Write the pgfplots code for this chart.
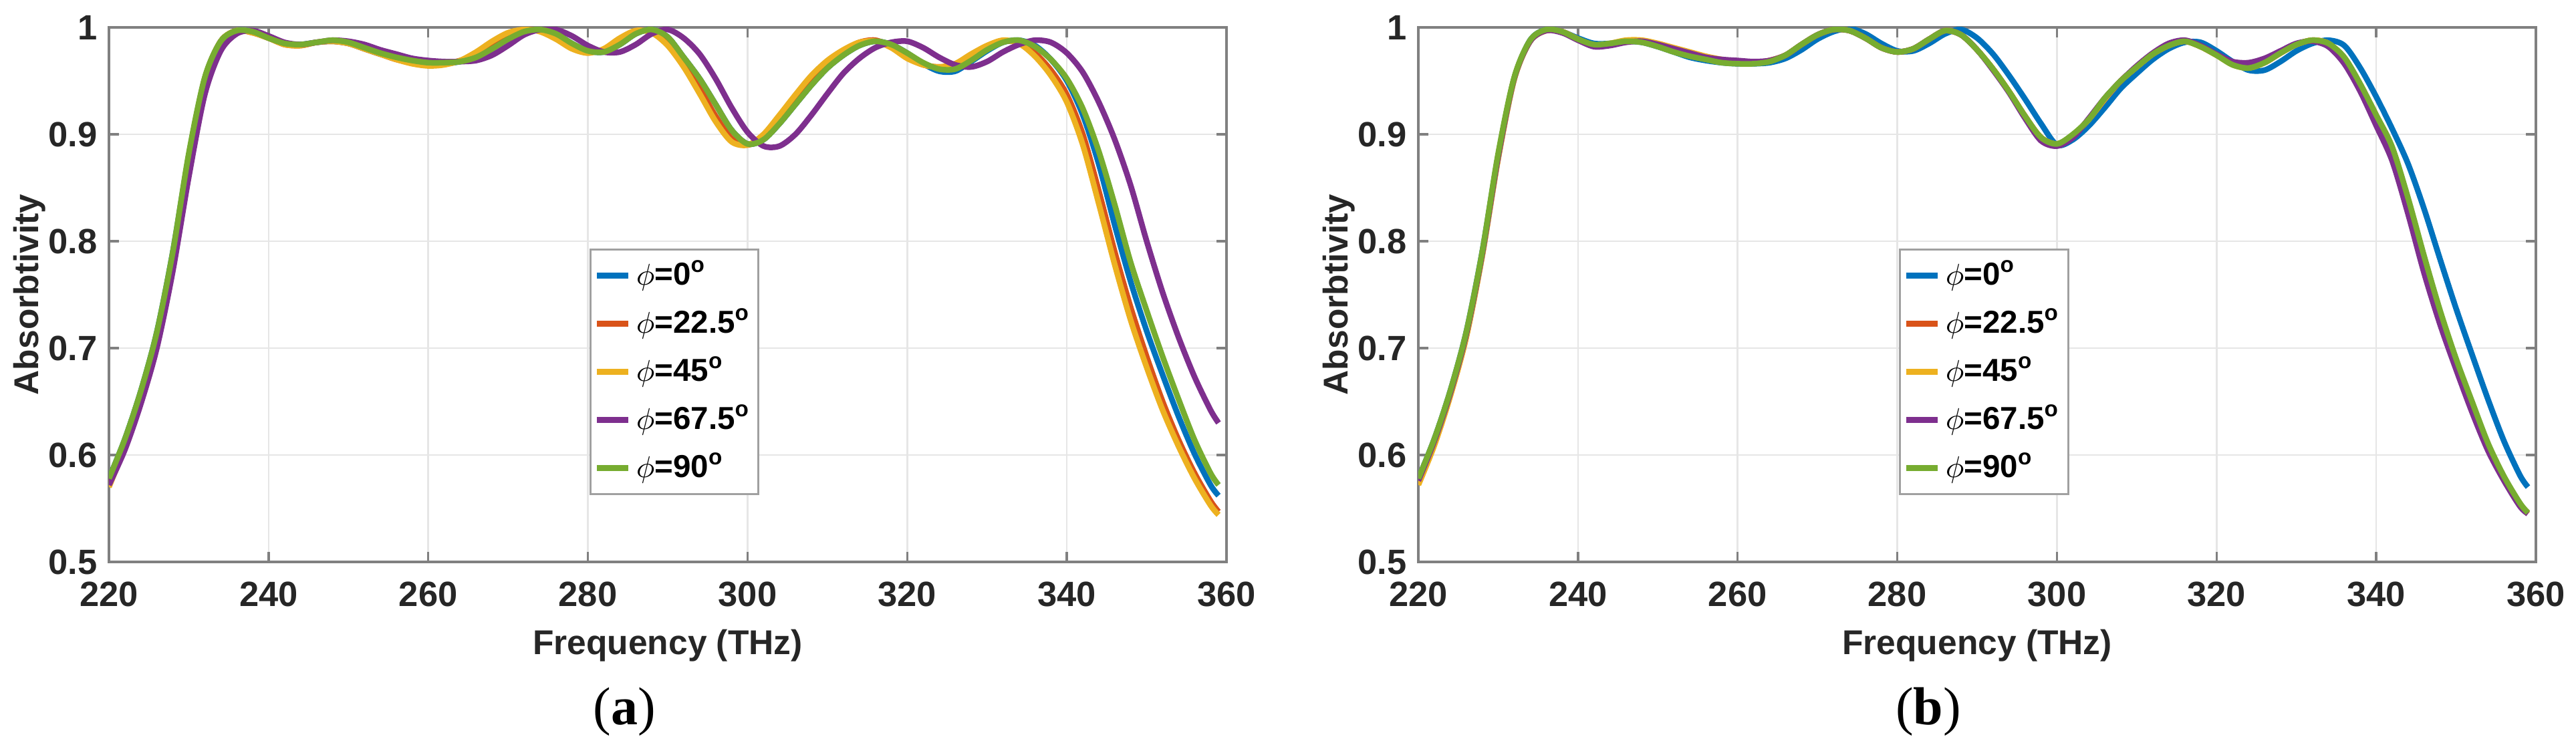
\documentclass[border=0pt]{standalone}
\usepackage{fontspec}
\setmainfont{Liberation Serif}
\setsansfont{Liberation Sans}
\usepackage{pgfplots}
\usepackage{pgfplotstable}
\pgfplotsset{compat=1.18}

\definecolor{mblue}{RGB}{0,114,189}
\definecolor{morange}{RGB}{217,83,25}
\definecolor{myellow}{RGB}{237,177,32}
\definecolor{mpurple}{RGB}{126,47,142}
\definecolor{mgreen}{RGB}{119,172,48}
\definecolor{axgray}{RGB}{128,128,128}
\definecolor{gridgray}{RGB}{230,230,230}
\definecolor{leggray}{RGB}{160,160,160}

% f, phi=0, 22.5, 45, 67.5, 90
\pgfplotstableread{
f c0 c22 c45 c67 c90
220 .578 .575 .570 .572 .578
222 .615 .612 .608 .605 .615
224 .660 .657 .653 .648 .660
226 .715 .712 .709 .700 .715
228 .790 .788 .786 .772 .790
230 .880 .878 .877 .860 .882
232 .952 .952 .951 .937 .953
234 .987 .987 .987 .978 .987
236 .997 .997 .997 .994 .997
238 .996 .995 .995 .997 .996
240 .990 .990 .990 .992 .990
242 .985 .984 .984 .986 .985
244 .984 .983 .983 .984 .984
246 .986 .986 .986 .986 .986
248 .987 .987 .987 .988 .988
250 .985 .985 .985 .987 .986
252 .980 .980 .980 .984 .981
254 .975 .975 .975 .979 .976
256 .971 .970 .970 .975 .972
258 .968 .967 .966 .971 .969
260 .966 .966 .964 .969 .967
262 .966 .966 .965 .968 .967
264 .968 .969 .969 .968 .968
266 .972 .975 .977 .969 .972
268 .980 .985 .987 .974 .980
270 .989 .993 .995 .983 .989
272 .996 .998 .998 .993 .996
274 .998 .997 .996 .998 .998
276 .994 .991 .989 .998 .994
278 .985 .982 .980 .992 .985
280 .978 .977 .976 .983 .978
282 .977 .979 .980 .977 .977
284 .984 .988 .990 .977 .984
286 .994 .996 .997 .984 .994
288 .998 .996 .995 .994 .998
290 .991 .986 .983 .998 .991
292 .972 .966 .963 .990 .972
294 .952 .943 .938 .975 .952
296 .928 .917 .912 .952 .928
298 .904 .896 .893 .925 .904
300 .891 .890 .890 .902 .891
302 .895 .898 .900 .889 .895
304 .910 .915 .918 .889 .910
306 .928 .934 .937 .900 .928
308 .946 .952 .955 .918 .946
310 .962 .967 .969 .938 .962
312 .974 .978 .979 .957 .974
314 .983 .986 .986 .971 .983
316 .987 .988 .987 .981 .987
318 .984 .982 .981 .986 .984
320 .976 .972 .971 .987 .976
322 .966 .965 .965 .981 .967
324 .959 .963 .963 .972 .961
326 .959 .965 .966 .965 .961
328 .968 .973 .975 .963 .969
330 .978 .982 .983 .968 .979
332 .986 .987 .988 .977 .986
334 .988 .986 .985 .984 .988
336 .983 .976 .973 .988 .982
338 .970 .960 .955 .986 .970
340 .950 .937 .930 .976 .952
342 .918 .900 .890 .958 .924
344 .872 .847 .835 .930 .884
346 .815 .790 .778 .895 .834
348 .762 .738 .726 .852 .780
350 .716 .692 .682 .800 .735
352 .675 .650 .642 .752 .692
354 .636 .614 .608 .710 .652
356 .601 .583 .578 .673 .614
358 .572 .557 .553 .642 .583
359 .562 .547 .544 .630 .572
}\tabA

\pgfplotstableread{
f c0 c22 c45 c67 c90
220 .578 .573 .572 .576 .578
222 .615 .610 .609 .613 .615
224 .660 .656 .655 .658 .660
226 .715 .711 .710 .713 .715
228 .790 .787 .786 .788 .790
230 .880 .878 .877 .879 .882
232 .952 .952 .951 .952 .953
234 .988 .987 .987 .987 .988
236 .998 .997 .997 .997 .998
238 .996 .996 .996 .995 .996
240 .990 .989 .989 .988 .989
242 .985 .983 .983 .982 .984
244 .985 .984 .985 .983 .985
246 .987 .987 .988 .986 .987
248 .986 .987 .988 .987 .986
250 .982 .984 .985 .984 .982
252 .977 .980 .981 .980 .977
254 .972 .976 .977 .976 .973
256 .969 .972 .973 .972 .970
258 .967 .969 .970 .970 .967
260 .966 .968 .968 .969 .966
262 .966 .967 .967 .968 .966
264 .967 .969 .969 .969 .968
266 .971 .974 .974 .974 .974
268 .979 .984 .984 .984 .984
270 .989 .993 .993 .993 .993
272 .996 .998 .998 .998 .998
274 .999 .997 .997 .997 .997
276 .994 .990 .990 .990 .990
278 .985 .981 .981 .981 .981
280 .978 .977 .977 .977 .977
282 .978 .980 .980 .980 .980
284 .985 .989 .989 .989 .989
286 .994 .997 .997 .997 .997
288 .998 .993 .993 .993 .993
290 .990 .979 .979 .979 .979
292 .975 .961 .961 .960 .961
294 .955 .940 .940 .939 .940
296 .933 .917 .917 .915 .917
298 .910 .897 .897 .894 .897
300 .890 .891 .891 .889 .891
302 .895 .899 .899 .897 .900
304 .908 .914 .914 .915 .914
306 .925 .933 .933 .934 .934
308 .943 .950 .950 .950 .950
310 .957 .963 .963 .964 .963
312 .970 .975 .975 .976 .975
314 .980 .983 .983 .985 .983
316 .986 .987 .987 .988 .987
318 .986 .982 .982 .983 .982
320 .978 .974 .974 .975 .974
322 .968 .966 .965 .968 .965
324 .960 .963 .962 .967 .962
326 .960 .967 .967 .971 .967
328 .968 .976 .976 .978 .976
330 .978 .984 .984 .985 .984
332 .985 .988 .988 .987 .988
334 .988 .985 .985 .982 .985
336 .983 .971 .971 .966 .972
338 .962 .946 .946 .940 .947
340 .935 .915 .915 .908 .918
342 .905 .885 .885 .875 .888
344 .872 .835 .835 .825 .840
346 .830 .780 .780 .770 .786
348 .783 .730 .730 .722 .735
350 .737 .686 .686 .680 .690
352 .694 .646 .646 .640 .650
354 .652 .608 .608 .604 .611
356 .613 .578 .578 .576 .580
358 .581 .554 .554 .552 .555
359 .570 .546 .545 .545 .546
}\tabB

\pgfplotsset{mystyle/.style={
  width=334.4pt, height=160pt, scale only axis,
  xmin=220, xmax=360, ymin=0.5, ymax=1,
  xtick={220,240,260,280,300,320,340,360},
  xticklabels={220,240,260,280,300,320,340,360},
  ytick={0.5,0.6,0.7,0.8,0.9,1},
  yticklabels={0.5,0.6,0.7,0.8,0.9,1},
  grid=major, grid style={color=gridgray, line width=0.5pt},
  axis line style={color=axgray, line width=0.7pt},
  tick align=inside, tick style={color=axgray, line width=0.7pt},
  major tick length=3pt,
  tick label style={font=\sffamily\bfseries\fontsize{10.5}{12}\selectfont, text=black!85},
  /pgf/number format/assume math mode=true,
  xticklabel style={yshift=-2.5pt},
  xlabel={Frequency (THz)}, ylabel={Absorbtivity},
  label style={font=\sffamily\bfseries\fontsize{10.3}{12}\selectfont, text=black!85},
  xlabel style={at={(axis description cs:0.5,0)}, anchor=base, yshift=-27.8pt},
  ylabel style={at={(axis description cs:-0.0712,0.5)}, anchor=center},
  legend style={at={(0.430,0.586)}, anchor=north west, draw=leggray,
    line width=0.6pt, fill=white,
    font=\sffamily\bfseries\fontsize{9.5}{11}\selectfont,
    row sep=0.9pt, inner xsep=1pt, inner ysep=1pt,
    nodes={inner sep=1.5pt, text height=8pt, text depth=2.5pt}},
  legend cell align=left,
  legend image code/.code={\draw[#1, line width=1.8pt] (0pt,0pt) -- (9.4pt,0pt);},
  every axis plot/.append style={line width=1.7pt, smooth, tension=0.5},
}}

\begin{document}
\begin{tikzpicture}
\path[use as bounding box] (0,0) rectangle (770.8pt,224.2pt);
\begin{axis}[mystyle, at={(32.6pt,56pt)}, anchor=south west]
\addplot[color=mblue] table[x=f,y=c0]{\tabA};
\addlegendentry{$\phi$=0\textsuperscript{o}}
\addplot[color=morange] table[x=f,y=c22]{\tabA};
\addlegendentry{$\phi$=22.5\textsuperscript{o}}
\addplot[color=myellow] table[x=f,y=c45]{\tabA};
\addlegendentry{$\phi$=45\textsuperscript{o}}
\addplot[color=mpurple] table[x=f,y=c67]{\tabA};
\addlegendentry{$\phi$=67.5\textsuperscript{o}}
\addplot[color=mgreen] table[x=f,y=c90]{\tabA};
\addlegendentry{$\phi$=90\textsuperscript{o}}
\end{axis}
\begin{axis}[mystyle, at={(424.4pt,56pt)}, anchor=south west]
\addplot[color=mblue] table[x=f,y=c0]{\tabB};
\addlegendentry{$\phi$=0\textsuperscript{o}}
\addplot[color=morange] table[x=f,y=c22]{\tabB};
\addlegendentry{$\phi$=22.5\textsuperscript{o}}
\addplot[color=myellow] table[x=f,y=c45]{\tabB};
\addlegendentry{$\phi$=45\textsuperscript{o}}
\addplot[color=mpurple] table[x=f,y=c67]{\tabB};
\addlegendentry{$\phi$=67.5\textsuperscript{o}}
\addplot[color=mgreen] table[x=f,y=c90]{\tabB};
\addlegendentry{$\phi$=90\textsuperscript{o}}
\end{axis}
\node[font=\fontsize{16}{18}\selectfont, inner sep=0pt] at (186.8pt,11.2pt) {(\textbf{a})};
\node[font=\fontsize{16}{18}\selectfont, inner sep=0pt] at (577pt,11.2pt) {(\textbf{b})};
\end{tikzpicture}
\end{document}
